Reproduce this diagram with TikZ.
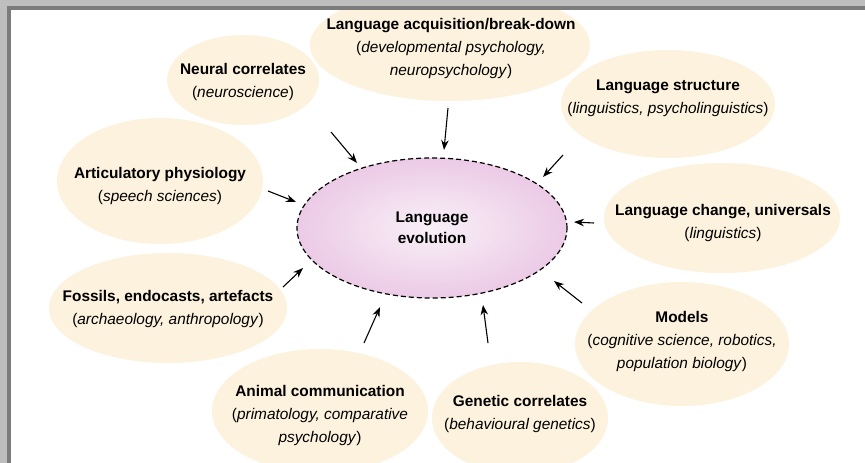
\documentclass[tikz,border=0pt]{standalone}
\usepackage{fontspec}
\setmainfont{Liberation Sans}
\usetikzlibrary{
  arrows.meta,
  shapes.geometric
}
\definecolor{bubblefill}{RGB}{252,242,221}
\definecolor{evoinner}{RGB}{248,240,247}
\definecolor{evoouter}{RGB}{236,202,230}
\definecolor{framelight}{RGB}{190,190,190}
\definecolor{framedark}{RGB}{124,124,124}
\tikzset{
  % For the cream backdrops of the fields of research.
  bubble/.style={
    fill=bubblefill},
%
  % For the names of the fields.
  field/.style={
    inner sep=0pt,
    align=center,
    font=\fontsize{15.4}{23}\selectfont},
%
  % For the central topic.
  topic/.style={
    ellipse,
    draw,
    line width=1.2pt,
    dash pattern=on 5pt off 3pt,
    inner color=evoinner,
    outer color=evoouter,
    minimum width=270pt,
    minimum height=140pt,
    align=center,
    font=\fontsize{15.4}{21}\selectfont\bfseries},
%
  % For the short arrows pointing at the topic.
  feed/.style={
    -{Stealth[length=10pt,width=7.5pt]},
    line width=1.1pt},
%
  % For the grey frame at the top and on the left.
  frame light/.style={
    fill=framelight},
  frame dark/.style={
    fill=framedark},
}

\begin{document}
\begin{tikzpicture}[x=1pt,y=-1pt]
  \clip (0,0) rectangle (865,463);
  \fill[white] (0,0) rectangle (865,463);

  \node[topic] (evo) at (432,228) {Language\\evolution};

  % Backdrops first, so that the names sit on top of them.
  \fill[bubble] (243,80) ellipse [x radius=76pt, y radius=45pt];
  \fill[bubble] (450,45) ellipse [x radius=140pt, y radius=56pt];
  \fill[bubble] (668,104) ellipse [x radius=107pt, y radius=54pt];
  \fill[bubble] (722,218) ellipse [x radius=118pt, y radius=55pt];
  \fill[bubble] (682,344) ellipse [x radius=107pt, y radius=62pt];
  \fill[bubble] (520,418) ellipse [x radius=88pt, y radius=56pt];
  \fill[bubble] (320,411) ellipse [x radius=108pt, y radius=62pt];
  \fill[bubble] (168,308) ellipse [x radius=119pt, y radius=55pt];
  \fill[bubble] (160,181) ellipse [x radius=103pt, y radius=63pt];

  \node[field] (neural) at (243,82)
    {\textbf{Neural correlates}\\(\textit{neuroscience})};
  \node[field] (acquisition) at (451,49)
    {\textbf{Language acquisition/break-down}\\
     (\textit{developmental psychology,}\\\textit{neuropsychology})};
  \node[field] (structure) at (668,98)
    {\textbf{Language structure}\\(\textit{linguistics, psycholinguistics})};
  \node[field] (change) at (723,223)
    {\textbf{Language change, universals}\\(\textit{linguistics})};
  \node[field] (models) at (682,342)
    {\textbf{Models}\\(\textit{cognitive science, robotics,}\\
     \textit{population biology})};
  \node[field] (genetic) at (520,414)
    {\textbf{Genetic correlates}\\(\textit{behavioural genetics})};
  \node[field] (animal) at (320,416)
    {\textbf{Animal communication}\\
     (\textit{primatology, comparative}\\\textit{psychology})};
  \node[field] (fossils) at (168,309)
    {\textbf{Fossils, endocasts, artefacts}\\(\textit{archaeology, anthropology})};
  \node[field] (articulatory) at (160,186)
    {\textbf{Articulatory physiology}\\(\textit{speech sciences})};

  % The arrows float between the fields and the topic, so both of their
  % ends are plain coordinates.
  \coordinate (neural tail) at (331,132);
  \coordinate (neural head) at (357,163);
  \coordinate (acquisition tail) at (448,108);
  \coordinate (acquisition head) at (444,150);
  \coordinate (structure tail) at (563,155);
  \coordinate (structure head) at (543,177);
  \coordinate (change tail) at (594,223);
  \coordinate (change head) at (574,222);
  \coordinate (models tail) at (582,303);
  \coordinate (models head) at (554,281);
  \coordinate (genetic tail) at (488,343);
  \coordinate (genetic head) at (483,305);
  \coordinate (animal tail) at (364,343);
  \coordinate (animal head) at (380,307);
  \coordinate (fossils tail) at (283,287);
  \coordinate (fossils head) at (303,268);
  \coordinate (articulatory tail) at (268,191);
  \coordinate (articulatory head) at (296,202);

  \draw[feed] (neural tail) -- (neural head);
  \draw[feed] (acquisition tail) -- (acquisition head);
  \draw[feed] (structure tail) -- (structure head);
  \draw[feed] (change tail) -- (change head);
  \draw[feed] (models tail) -- (models head);
  \draw[feed] (genetic tail) -- (genetic head);
  \draw[feed] (animal tail) -- (animal head);
  \draw[feed] (fossils tail) -- (fossils head);
  \draw[feed] (articulatory tail) -- (articulatory head);

  % The frame covers the top of the acquisition field.
  \path[frame light] (0,0) rectangle (865,6);
  \path[frame light] (0,0) rectangle (7,463);
  \path[frame dark] (7,6) rectangle (865,10);
  \path[frame dark] (7,6) rectangle (11,463);
\end{tikzpicture}
\end{document}
